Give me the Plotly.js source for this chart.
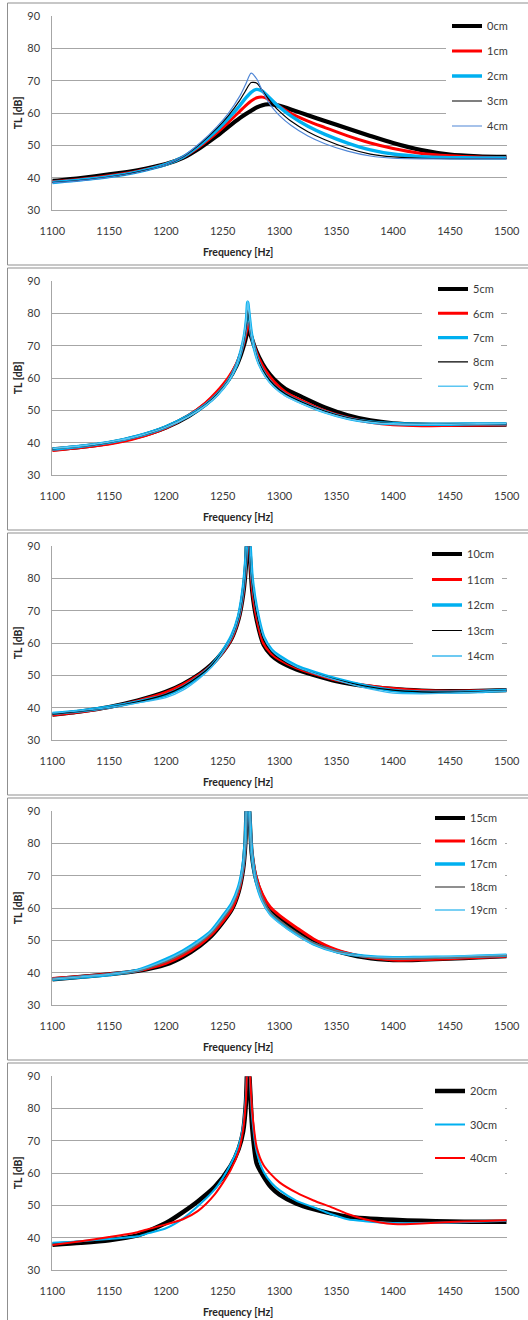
<!DOCTYPE html>
<html>
<head>
<meta charset="utf-8">
<script src="https://cdn.plot.ly/plotly-3.0.1.min.js"></script>
<style>
  html, body { margin: 0; padding: 0; background: #ffffff; }
  #chart { width: 528px; height: 1320px; }
</style>
</head>
<body>
<div id="chart"></div>
<script>
// ---- Frequency grids (Hz), one per panel ----
const freqP1 = [1100, 1125, 1150, 1175, 1200, 1215, 1230, 1245, 1255, 1265, 1270, 1275, 1280, 1285, 1290, 1295, 1300, 1310, 1325, 1340, 1360, 1380, 1400, 1425, 1450, 1475, 1500];
const freqP2 = [1100, 1125, 1150, 1175, 1200, 1220, 1235, 1245, 1255, 1262, 1266, 1269, 1271, 1272, 1273, 1275, 1278, 1282, 1288, 1295, 1305, 1320, 1340, 1360, 1380, 1400, 1425, 1450, 1475, 1500];
const freqP3 = [1100, 1125, 1150, 1175, 1200, 1215, 1230, 1240, 1250, 1258, 1264, 1268, 1270.5, 1272, 1273.5, 1276, 1280, 1286, 1293, 1300, 1315, 1330, 1350, 1375, 1400, 1425, 1450, 1475, 1500];
const freqP4 = [1100, 1125, 1150, 1175, 1200, 1215, 1230, 1240, 1250, 1258, 1264, 1268, 1270, 1271.5, 1273, 1275.5, 1279, 1285, 1292, 1300, 1315, 1330, 1350, 1375, 1400, 1425, 1450, 1475, 1500];
const freqP5 = [1100, 1125, 1150, 1175, 1185, 1200, 1215, 1228, 1243, 1257, 1264, 1268, 1270.5, 1272, 1273.5, 1276, 1280, 1286, 1293, 1300, 1315, 1330, 1345, 1360, 1375, 1400, 1425, 1450, 1475, 1500];

// ---- Transmission loss TL [dB] per position ----
const tl0cm = [39.1, 40.0, 41.1, 42.4, 44.3, 46.2, 49.3, 53.0, 55.8, 58.5, 59.7, 60.8, 61.8, 62.5, 62.8, 62.7, 62.3, 61.2, 59.4, 57.6, 55.3, 53.0, 50.8, 48.6, 47.2, 46.7, 46.5];
const tl1cm = [38.8, 39.6, 40.7, 42.1, 44.3, 46.4, 49.8, 54.0, 57.2, 60.6, 62.3, 63.8, 64.8, 65.0, 64.4, 63.3, 62.1, 60.0, 57.6, 55.6, 53.0, 50.8, 49.1, 47.6, 46.9, 46.5, 46.3];
const tl2cm = [38.6, 39.4, 40.4, 41.9, 44.2, 46.5, 50.2, 54.8, 58.4, 62.4, 64.6, 66.5, 67.4, 66.8, 65.2, 63.5, 61.9, 59.2, 56.0, 53.5, 50.8, 48.7, 47.4, 46.6, 46.3, 46.2, 46.2];
const tl3cm = [38.6, 39.3, 40.3, 41.8, 44.1, 46.6, 50.5, 55.4, 59.3, 64.0, 66.9, 69.5, 69.3, 67.0, 64.6, 62.4, 60.6, 57.6, 54.3, 51.8, 49.2, 47.4, 46.5, 46.1, 46.0, 46.0, 46.0];
const tl4cm = [38.5, 39.2, 40.2, 41.7, 44.1, 46.7, 50.8, 55.9, 60.0, 65.3, 68.8, 72.4, 70.6, 66.8, 63.6, 61.2, 59.3, 56.3, 53.0, 50.6, 48.3, 46.8, 46.1, 45.9, 45.9, 45.9, 45.9];

const tl5cm = [38.0, 38.8, 40.0, 41.9, 44.8, 48.3, 52.0, 55.3, 59.5, 63.8, 67.3, 70.6, 73.4, 75.0, 75.0, 73.0, 69.8, 66.5, 62.8, 59.8, 56.8, 54.2, 51.0, 48.6, 47.0, 46.1, 45.7, 45.6, 45.6, 45.7];
const tl6cm = [37.7, 38.6, 39.7, 41.6, 44.7, 48.5, 52.4, 55.9, 60.2, 64.4, 68.0, 71.6, 74.8, 77.0, 76.5, 73.5, 69.8, 66.0, 62.2, 59.0, 55.8, 53.0, 49.9, 47.8, 46.4, 45.6, 45.3, 45.4, 45.5, 45.6];
const tl7cm = [38.1, 39.0, 40.2, 42.1, 45.0, 48.4, 51.8, 54.9, 59.2, 63.9, 68.3, 73.0, 78.5, 83.5, 80.5, 74.5, 69.0, 64.6, 60.7, 57.7, 55.0, 52.4, 49.6, 47.6, 46.5, 46.0, 45.8, 45.8, 45.9, 45.9];
const tl8cm = [38.2, 39.0, 40.2, 42.0, 44.9, 48.3, 51.8, 55.0, 59.3, 63.9, 68.2, 72.6, 77.0, 81.2, 79.0, 74.0, 69.0, 64.8, 61.0, 58.0, 55.2, 52.6, 49.8, 47.8, 46.6, 46.0, 45.8, 45.8, 45.9, 45.9];
const tl9cm = [38.3, 39.1, 40.3, 42.1, 44.9, 48.2, 51.6, 54.7, 59.0, 63.8, 68.4, 73.4, 79.0, 83.8, 81.0, 74.6, 68.8, 64.2, 60.3, 57.3, 54.6, 52.1, 49.4, 47.5, 46.4, 45.9, 45.8, 45.8, 45.9, 46.0];

const tl10cm = [37.9, 38.9, 40.3, 42.3, 45.0, 47.4, 50.6, 53.4, 57.3, 61.6, 67.5, 75.0, 84.0, 98.0, 90.0, 76.0, 67.0, 59.5, 56.2, 54.4, 51.9, 50.2, 48.3, 46.8, 45.9, 45.4, 45.2, 45.3, 45.5];
const tl11cm = [37.8, 38.8, 40.2, 42.2, 44.8, 47.2, 50.4, 53.2, 57.2, 61.6, 67.6, 75.5, 85.0, 99.0, 91.0, 77.0, 67.8, 60.0, 56.8, 55.0, 52.4, 50.6, 48.6, 47.0, 46.0, 45.4, 45.2, 45.3, 45.5];
const tl12cm = [38.3, 39.1, 40.3, 41.9, 44.0, 46.4, 49.9, 53.0, 57.6, 62.4, 68.5, 77.0, 87.0, 100.0, 94.0, 80.0, 70.5, 62.0, 58.0, 56.0, 53.0, 51.1, 49.0, 46.9, 45.4, 44.9, 44.9, 45.1, 45.5];
const tl13cm = [38.1, 39.0, 40.2, 41.9, 44.2, 46.6, 50.1, 53.1, 57.4, 62.0, 68.0, 76.0, 86.0, 99.0, 92.0, 78.5, 69.0, 61.0, 57.3, 55.3, 52.5, 50.8, 48.8, 46.8, 45.5, 45.0, 44.9, 45.1, 45.4];
const tl14cm = [38.4, 39.2, 40.2, 41.6, 43.2, 45.5, 49.3, 52.6, 57.3, 62.2, 68.5, 77.0, 87.5, 100.0, 94.0, 80.0, 70.5, 62.0, 57.8, 55.7, 52.7, 50.8, 48.6, 46.2, 44.6, 44.4, 44.6, 44.9, 45.3];

const tl15cm = [38.0, 38.8, 39.6, 40.6, 42.6, 45.0, 48.4, 51.4, 55.6, 59.6, 65.0, 72.0, 80.0, 95.0, 92.0, 77.0, 69.5, 63.5, 59.5, 57.0, 53.2, 49.8, 46.8, 44.8, 44.0, 44.1, 44.4, 44.8, 45.2];
const tl16cm = [38.3, 38.9, 39.7, 40.7, 43.0, 45.4, 48.8, 51.8, 55.9, 59.8, 65.2, 72.3, 80.5, 96.0, 93.0, 78.0, 70.3, 64.3, 60.3, 57.8, 54.0, 50.5, 47.2, 45.0, 44.0, 44.1, 44.4, 44.8, 45.2];
const tl17cm = [38.0, 38.7, 39.5, 40.8, 44.2, 46.8, 50.2, 53.0, 57.5, 61.5, 66.6, 73.5, 82.0, 98.0, 94.0, 77.5, 69.0, 62.4, 58.3, 55.8, 52.0, 49.0, 46.6, 45.2, 44.7, 44.8, 44.9, 45.2, 45.5];
const tl18cm = [38.1, 38.8, 39.6, 40.7, 43.5, 46.0, 49.4, 52.3, 56.6, 60.6, 65.8, 72.8, 81.0, 97.0, 93.0, 77.0, 69.0, 62.8, 58.8, 56.3, 52.5, 49.3, 46.7, 45.0, 44.4, 44.5, 44.7, 45.0, 45.4];
const tl19cm = [38.1, 38.8, 39.6, 40.9, 44.0, 46.6, 50.0, 52.9, 57.3, 61.3, 66.5, 73.5, 82.0, 98.0, 94.0, 77.5, 68.8, 62.0, 57.9, 55.4, 51.7, 48.8, 46.4, 45.2, 44.8, 44.9, 45.1, 45.4, 45.7];

const tl20cm = [37.9, 38.5, 39.3, 40.8, 42.2, 44.6, 48.0, 51.3, 55.8, 62.3, 67.5, 73.0, 82.0, 96.0, 90.0, 74.0, 63.0, 59.0, 55.5, 53.4, 50.6, 48.9, 47.6, 46.6, 46.1, 45.6, 45.3, 45.1, 45.0, 45.0];
const tl30cm = [38.5, 39.0, 39.7, 40.5, 41.5, 43.0, 46.0, 49.8, 55.0, 62.8, 68.5, 75.0, 85.0, 98.0, 92.0, 77.0, 66.5, 60.5, 57.0, 54.8, 51.5, 49.5, 47.4, 45.8, 45.2, 44.6, 44.6, 44.8, 45.0, 45.3];
const tl40cm = [37.8, 39.0, 40.3, 41.8, 42.8, 44.2, 45.8, 48.3, 53.5, 61.0, 66.8, 73.5, 83.0, 97.0, 93.0, 79.0, 68.0, 62.5, 59.5, 57.2, 54.0, 51.6, 49.6, 47.4, 45.8, 44.3, 44.5, 44.9, 45.2, 45.5];

// ---- Axis tick values ----
const freqTicks = [1100, 1150, 1200, 1250, 1300, 1350, 1400, 1450, 1500];
const tlTicks = [30, 40, 50, 60, 70, 80, 90];

// ---- Page geometry (px) ----
const W = 528, H = 1320;
const plotLeft = 52.3, plotRight = 506.7, plotH = 194;
const panelTops = [16.3, 281.3, 546.3, 811.3, 1076.3];
const frameTops = [3, 268, 533, 798, 1063];
const frameH = 262;

// ---- Line styles ----
const BLACK = '#000000', RED = '#ff0000', CYAN = '#00b0f0';
const styleThick = { color: BLACK, width: 4.2 };
const styleRed = { color: RED, width: 3 };
const styleCyan = { color: CYAN, width: 3.4 };
const styleThin = { color: BLACK, width: 1.2 };

const panels = [
  { x: freqP1, legendLeft: 446, firstRow: 26, rowStep: 25, indent: -1,
    series: [
      ['0cm', tl0cm, styleThick], ['1cm', tl1cm, styleRed], ['2cm', tl2cm, styleCyan],
      ['3cm', tl3cm, styleThin], ['4cm', tl4cm, { color: '#4f86d6', width: 1.2 }]
    ] },
  { x: freqP2, legendLeft: 422, firstRow: 289, rowStep: 24.3, indent: 9,
    series: [
      ['5cm', tl5cm, styleThick], ['6cm', tl6cm, styleRed], ['7cm', tl7cm, styleCyan],
      ['8cm', tl8cm, styleThin], ['9cm', tl9cm, { color: '#5cc6f2', width: 1.6 }]
    ] },
  { x: freqP3, legendLeft: 413, firstRow: 554, rowStep: 25.5, indent: 12,
    series: [
      ['10cm', tl10cm, styleThick], ['11cm', tl11cm, styleRed], ['12cm', tl12cm, styleCyan],
      ['13cm', tl13cm, styleThin], ['14cm', tl14cm, { color: '#3cb8ee', width: 1.3 }]
    ] },
  { x: freqP4, legendLeft: 421, firstRow: 818, rowStep: 23, indent: 7,
    series: [
      ['15cm', tl15cm, styleThick], ['16cm', tl16cm, styleRed], ['17cm', tl17cm, styleCyan],
      ['18cm', tl18cm, { color: '#6a6a6a', width: 1.6 }], ['19cm', tl19cm, { color: '#4cc0f0', width: 1.3 }]
    ] },
  { x: freqP5, legendLeft: 423, firstRow: 1091, rowStep: 33.5, indent: 5,
    series: [
      ['20cm', tl20cm, { color: BLACK, width: 4.5 }], ['30cm', tl30cm, { color: CYAN, width: 2 }],
      ['40cm', tl40cm, { color: RED, width: 2 }]
    ] }
];

const FONT = 'Lato, "Open Sans", sans-serif';
const tickFont = { family: FONT, size: 11, color: '#3a3a3a' };
const titleFont = { family: FONT, size: 10.5, color: '#262626', weight: 'bold' };
const GRID = '#a6a6a6';

const traces = [];
const layout = {
  width: W, height: H,
  margin: { l: 0, r: 0, t: 0, b: 0, autoexpand: false },
  paper_bgcolor: '#ffffff', plot_bgcolor: '#ffffff',
  showlegend: true,
  hovermode: false,
  shapes: [], annotations: []
};

const ITEM_H = 19, LEG_BW = 2, ITEM_GAP = 5;

panels.forEach((p, i) => {
  const k = i + 1;
  const xid = k === 1 ? 'x' : 'x' + k;
  const yid = k === 1 ? 'y' : 'y' + k;
  const legId = k === 1 ? 'legend' : 'legend' + k;
  const top = panelTops[i];

  p.series.forEach(([name, y, st]) => {
    traces.push({
      type: 'scatter', mode: 'lines', name: name,
      x: p.x, y: y, xaxis: xid, yaxis: yid,
      legend: legId, legendgroup: name,
      line: { color: st.color, width: st.width, shape: 'spline', smoothing: 0.7 },
      cliponaxis: true
    });
  });

  layout['xaxis' + (k === 1 ? '' : k)] = {
    anchor: yid, domain: [plotLeft / W, plotRight / W],
    range: [1100, 1500], tickmode: 'array', tickvals: freqTicks,
    showgrid: false, zeroline: false, showline: true, linecolor: GRID, linewidth: 1,
    ticks: '', tickfont: tickFont, ticklabelstandoff: 10, fixedrange: true
  };
  layout['yaxis' + (k === 1 ? '' : k)] = {
    anchor: xid, domain: [1 - (top + plotH) / H, 1 - top / H],
    range: [30, 90], tickmode: 'array', tickvals: tlTicks,
    showgrid: true, gridcolor: GRID, gridwidth: 1,
    zeroline: false, showline: true, linecolor: GRID, linewidth: 1,
    ticks: '', tickfont: tickFont, ticklabelstandoff: 9, fixedrange: true
  };

  layout[legId] = {
    x: p.legendLeft / W, xanchor: 'left',
    y: 1 - (p.firstRow - (LEG_BW + ITEM_GAP + ITEM_H / 2)) / H, yanchor: 'top',
    bgcolor: '#ffffff', bordercolor: '#ffffff', borderwidth: LEG_BW,
    indentation: p.indent,
    traceorder: 'grouped', tracegroupgap: p.rowStep - ITEM_H,
    font: { family: FONT, size: 11, color: '#3a3a3a' }
  };

  // chart frame around each panel
  layout.shapes.push({
    type: 'rect', xref: 'paper', yref: 'paper', layer: 'below',
    x0: 7.5 / W, x1: 540 / W,
    y0: 1 - (frameTops[i] + frameH) / H, y1: 1 - frameTops[i] / H,
    line: { color: '#8f8f8f', width: 1 }, fillcolor: 'rgba(0,0,0,0)'
  });

  // axis titles
  layout.annotations.push({
    xref: 'paper', yref: 'paper', x: 237.5 / W, y: 1 - (top + 236) / H,
    xanchor: 'center', yanchor: 'middle', showarrow: false,
    text: 'Frequency [Hz]', font: titleFont
  });
  layout.annotations.push({
    xref: 'paper', yref: 'paper', x: 18 / W, y: 1 - (top + plotH / 2) / H,
    xanchor: 'center', yanchor: 'middle', showarrow: false, textangle: -90,
    text: 'TL [dB]', font: titleFont
  });
});

Plotly.newPlot('chart', traces, layout, { staticPlot: true, displayModeBar: false });
</script>
</body>
</html>
